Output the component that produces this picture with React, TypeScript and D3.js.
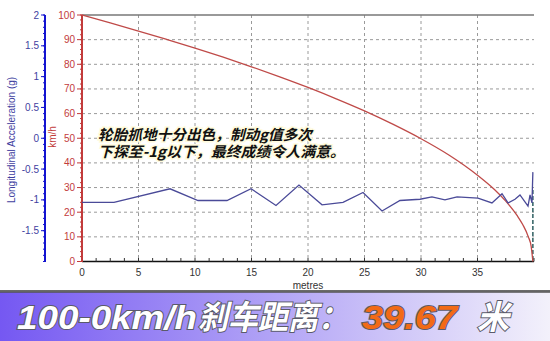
import React from "react";
import * as d3 from "d3";

const W = 550, H = 341;

// speed curve (km/h) vs distance (m)
const speedDist = [0, 2.5, 5, 7.5, 10, 12.5, 15, 17.5, 20, 22.5, 25, 27.5, 30, 32.5, 35, 36.5, 37.5, 38.5, 39, 39.5, 39.75, 39.9];
const speedVals = [100, 96.8, 93.5, 90.1, 86.6, 82.9, 79.0, 74.9, 70.6, 66.0, 61.1, 55.7, 49.8, 43.1, 35.0, 29.2, 24.5, 18.7, 15.0, 10.0, 6.1, 0];

// longitudinal acceleration (g) vs distance (m)
const accDist = [0, 2.83, 7.79, 10.27, 12.83, 14.96, 17.17, 19.2, 21.24, 23.1, 24.87, 26.55, 28.14, 29.91, 30.97, 32.12, 33.19, 35.04, 36.28, 37.17, 37.7, 38.32, 38.76, 39.47, 39.65, 39.82, 39.9];
const accVals = [-1.04, -1.04, -0.82, -1.01, -1.01, -0.82, -1.09, -0.76, -1.08, -1.04, -0.88, -1.18, -1.01, -0.99, -0.95, -1.0, -0.95, -0.97, -1.05, -0.9, -1.05, -0.99, -0.92, -1.1, -0.92, -1.05, -0.55];

const xTicks = [0, 5, 10, 15, 20, 25, 30, 35];
const speedTicks = [0, 10, 20, 30, 40, 50, 60, 70, 80, 90, 100];
const accTicks = [2, 1.5, 1, 0.5, 0, -0.5, -1, -1.5];

const x = d3.scaleLinear().domain([0, 40]).range([82, 534]);
const ySpeed = d3.scaleLinear().domain([0, 100]).range([261.5, 15]);
const yAcc = d3.scaleLinear().domain([-2, 2]).range([261.5, 15]);

const RED = "#c23b3b";
const BLUE_AX = "#1414d0";
const BLUE_TXT = "#3f3f9f";

export default function App() {
  const speedLine = d3
    .line<number>()
    .x((_, i) => x(speedDist[i]))
    .y((d) => ySpeed(d))
    .curve(d3.curveMonotoneX)(speedVals) as string;
  const accLine = d3
    .line<number>()
    .x((_, i) => x(accDist[i]))
    .y((d) => yAcc(d))(accVals) as string;

  const minorX = d3.range(0, 40.01, 1.25);
  const minorSpeed = d3.range(0, 100.01, 2);
  const minorAcc = d3.range(-2, 2.001, 0.1);

  const font = "'Liberation Sans', Arial, sans-serif";
  const cjk = "'Noto Sans CJK SC', sans-serif";

  return (
    <svg
      width={W}
      height={H}
      style={{ position: "absolute", left: 0, top: 0, background: "#fff" }}
      fontFamily={font}
    >
      <defs>
        <linearGradient id="band" x1="0" x2="1" y1="0" y2="0">
          <stop offset="0" stopColor="#7558f2" />
          <stop offset="0.5" stopColor="#b2a4f6" />
          <stop offset="1" stopColor="#f3f1fb" />
        </linearGradient>
        <linearGradient id="shadow" x1="0" x2="0" y1="0" y2="1">
          <stop offset="0" stopColor="#555" />
          <stop offset="1" stopColor="#555" stopOpacity="0" />
        </linearGradient>
      </defs>
      <rect width={W} height={H} fill="#fff" />

      {/* grid */}
      {speedTicks.filter((t) => t > 0 && t < 100).map((t) => (
        <line key={"gh" + t} x1={x(0)} x2={x(40)} y1={ySpeed(t)} y2={ySpeed(t)} stroke="#9a9a9a" strokeDasharray="3,3" />
      ))}
      {xTicks.filter((t) => t > 0).map((t) => (
        <line key={"gv" + t} x1={x(t)} x2={x(t)} y1={15} y2={261.5} stroke="#9a9a9a" strokeDasharray="3,3" />
      ))}
      {/* top border */}
      <line x1={x(0)} x2={x(40)} y1={15} y2={15} stroke="#777" strokeWidth={1.5} />

      {/* end marker */}
      <line x1={x(39.9)} x2={x(39.9)} y1={190} y2={261.5} stroke="#2f5f62" strokeWidth={1.5} strokeDasharray="4,2" />

      {/* x axis */}
      <line x1={x(0)} x2={x(40)} y1={261.5} y2={261.5} stroke="#111" strokeWidth={1.5} />
      {minorX.map((t) => (
        <line key={"mx" + t} x1={x(t)} x2={x(t)} y1={261.5} y2={258} stroke="#333" />
      ))}
      {xTicks.map((t) => (
        <text key={"xt" + t} x={x(t)} y={276} fontSize={10} fill="#333" textAnchor="middle">{t}</text>
      ))}
      <text x={308} y={289} fontSize={10} fill="#333" textAnchor="middle">metres</text>

      {/* speed axis */}
      <line x1={82} x2={82} y1={15} y2={262} stroke={RED} strokeWidth={2} />
      {minorSpeed.map((t) => (
        <line key={"ms" + t} x1={82} x2={80} y1={ySpeed(t)} y2={ySpeed(t)} stroke={RED} />
      ))}
      {speedTicks.map((t) => (
        <g key={"st" + t}>
          <line x1={77} x2={82} y1={ySpeed(t)} y2={ySpeed(t)} stroke={RED} />
          <text x={75} y={ySpeed(t) + 3.5} fontSize={10} fill={RED} textAnchor="end">{t}</text>
        </g>
      ))}
      <text transform="translate(56,137) rotate(-90)" fontSize={10} fill={RED} textAnchor="middle">km/h</text>

      {/* acceleration axis */}
      <line x1={45} x2={45} y1={15} y2={262} stroke={BLUE_AX} strokeWidth={2} />
      {minorAcc.map((t) => (
        <line key={"ma" + t.toFixed(1)} x1={45} x2={43} y1={yAcc(t)} y2={yAcc(t)} stroke={BLUE_AX} />
      ))}
      {accTicks.map((t) => (
        <g key={"at" + t}>
          <line x1={41} x2={45} y1={yAcc(t)} y2={yAcc(t)} stroke={BLUE_AX} />
          <text x={39} y={yAcc(t) + 3.5} fontSize={10} fill={BLUE_TXT} textAnchor="end">{t}</text>
        </g>
      ))}
      <text transform="translate(15,140) rotate(-90)" fontSize={10} fill={BLUE_TXT} textAnchor="middle">Longitudinal Acceleration (g)</text>

      {/* data */}
      <path d={speedLine} fill="none" stroke="#bf4a48" strokeWidth={1.3} />
      <path d={accLine} fill="none" stroke="#4a4a98" strokeWidth={1.3} />

      {/* annotation */}
      <g fontFamily={cjk} fontWeight="bold" fontStyle="italic" fontSize={14.5} fill="#111"
         stroke="#fffbdc" strokeWidth={3} style={{ paintOrder: "stroke" }}>
        <text x={98} y={139.5} textLength={214} lengthAdjust="spacingAndGlyphs">轮胎抓地十分出色，制动g值多次</text>
        <text x={98} y={157} textLength={247} lengthAdjust="spacingAndGlyphs">下探至-1g以下，最终成绩令人满意。</text>
      </g>

      {/* banner */}
      <rect x={0} y={290} width={W} height={4} fill="url(#shadow)" />
      <rect x={0} y={292} width={W} height={49} fill="url(#band)" />
      <line x1={0} x2={W} y1={292} y2={292} stroke="#555" strokeWidth={1.5} />
      <g fontWeight="bold" fontStyle="italic" fontSize={33} stroke="#5a5a6a" strokeWidth={2}
         style={{ paintOrder: "stroke" }}>
        <text x={17} y={329} fill="#fff" fontFamily={font} textLength={180} lengthAdjust="spacingAndGlyphs">100-0km/h</text>
        <text x={198} y={329} fill="#fff" fontFamily={cjk} textLength={150} lengthAdjust="spacingAndGlyphs">刹车距离：</text>
        <text x={362} y={329} fill="#f26a16" fontFamily={font} textLength={95} lengthAdjust="spacingAndGlyphs">39.67</text>
        <text x={477} y={329} fill="#fff" fontFamily={cjk} textLength={32} lengthAdjust="spacingAndGlyphs">米</text>
      </g>
    </svg>
  );
}
